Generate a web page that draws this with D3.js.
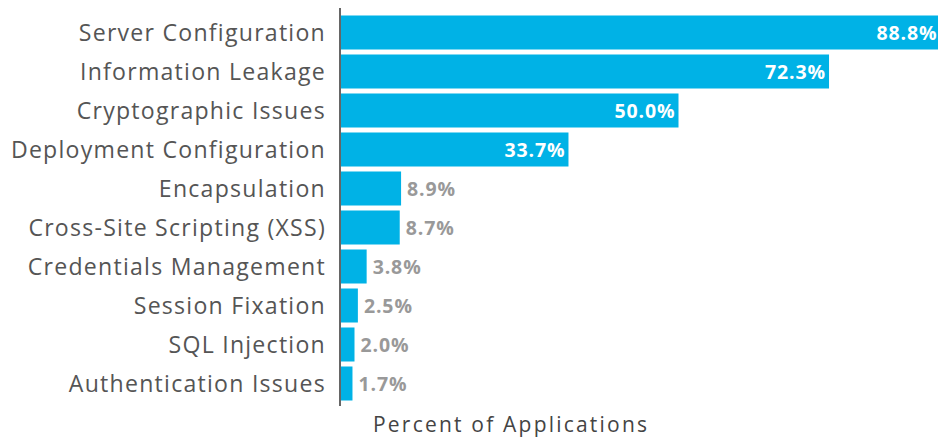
<!DOCTYPE html>
<html><head><meta charset="utf-8">
<script src="https://cdn.jsdelivr.net/npm/d3@7"></script>
<style>body{margin:0;background:#fff}svg{display:block}</style>
</head><body>
<script>
const categories = ["Server Configuration","Information Leakage","Cryptographic Issues","Deployment Configuration","Encapsulation","Cross-Site Scripting (XSS)","Credentials Management","Session Fixation","SQL Injection","Authentication Issues"];
const values = [88.8,72.3,50.0,33.7,8.9,8.7,3.8,2.5,2.0,1.7];
const axisTitle = "Percent of Applications";

const W=938,H=441;
const svg=d3.select("body").append("svg").attr("width",W).attr("height",H);
const x=d3.scaleLinear().domain([0,100]).range([341,1016]);
const y=d3.scaleBand().domain(categories).range([13,403]).paddingInner(0.128).paddingOuter(0.064);
const font="'Open Sans', sans-serif";

svg.selectAll("rect.bar").data(values).join("rect")
  .attr("x",x(0)).attr("y",(d,i)=>y(categories[i]))
  .attr("width",d=>x(d)-x(0)).attr("height",y.bandwidth())
  .attr("fill","#00b2e6");

svg.append("line").attr("x1",340).attr("x2",340).attr("y1",8).attr("y2",406)
  .attr("stroke","#666").attr("stroke-width",2);

function fit(sel, size, target, nchars, maxS){
  sel.attr("font-size",size);
  const w0=sel.node().getComputedTextLength();
  const s=target/w0;
  const sz=size*Math.min(maxS,s);
  sel.attr("font-size",sz);
  const w1=sel.node().getComputedTextLength();
  if(w1<target) sel.attr("letter-spacing",((target-w1)/nchars)+"px");
}

const cats=svg.selectAll("text.cat").data(categories).join("text")
  .attr("x",326).attr("y",d=>y(d)+y.bandwidth()/2).attr("dy","0.35em")
  .attr("text-anchor","end").attr("font-family",font)
  .attr("fill","#555").text(d=>d);
fit(cats,21,246,19,1.1);

const vals=svg.selectAll("text.val").data(values).join("text")
  .attr("x",d=>d>20? x(d)-3 : x(d)+6)
  .attr("y",(d,i)=>y(categories[i])+y.bandwidth()/2).attr("dy","0.36em")
  .attr("text-anchor",d=>d>20?"end":"start")
  .attr("font-family",font).attr("font-weight","bold")
  .attr("fill",d=>d>20?"#fff":"#999").text(d=>d.toFixed(1)+"%");
fit(vals,19.5,61,5,1.0);

const title=svg.append("text").attr("x",373).attr("y",432)
  .attr("font-family",font).attr("fill","#444").text(axisTitle);
fit(title,21,274,22,1.0);
</script>
</body></html>
